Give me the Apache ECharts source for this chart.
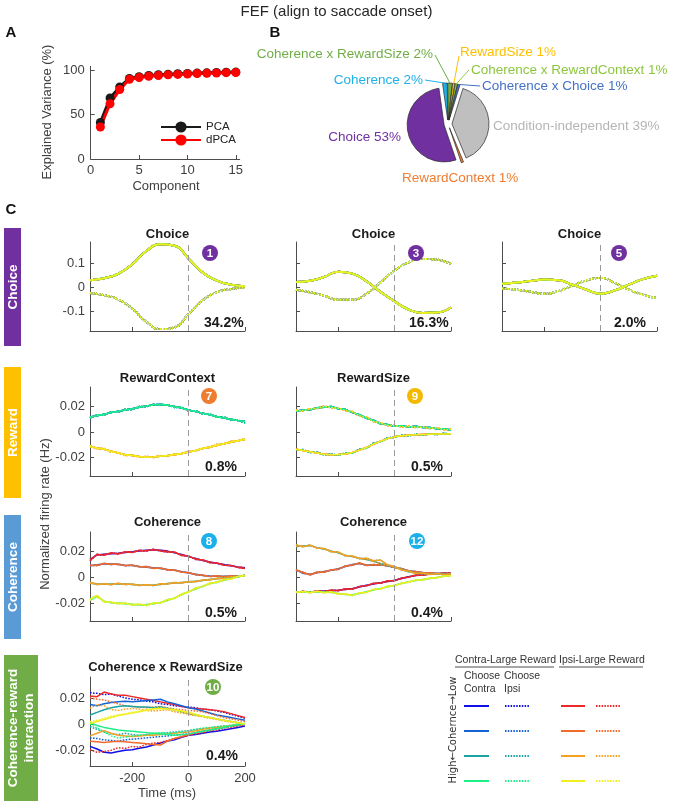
<!DOCTYPE html>
<html><head><meta charset="utf-8">
<script src="https://cdn.jsdelivr.net/npm/echarts@6/dist/echarts.min.js"></script>
<style>html,body{margin:0;padding:0;background:#fff}#c{width:673px;height:805px}</style>
</head><body><div id="c"></div>
<script>
// ================= DATA =================
// Panel A: explained variance
const components = [1,2,3,4,5,6,7,8,9,10,11,12,13,14,15];
const pcaVar  = [41,68.5,81,90.5,92.5,93.8,94.6,95.2,95.7,96.1,96.5,96.8,97.1,97.4,97.6];
const dpcaVar = [36,62,78,89.5,91.5,93,93.8,94.5,95,95.5,96,96.3,96.6,97,97.2];

// Panel B: variance split (pie)
const pieNames  = ['Coherence','Coherence x RewardSize','RewardSize','Coherence x RewardContext','Coherence x Choice','Condition-independent','RewardContext','Choice'];
const pieValues = [2,2,1,1,1,39,1,53];

// Panel C: time axes
const timeCoarse = [-350,-300,-250,-200,-150,-100,-50,0,50,100,150,200];
const timeFine = [-350,-325,-300,-275,-250,-225,-200,-175,-150,-125,-100,-75,-50,-25,0,25,50,75,100,125,150,175,200];
const xTicks = [-200,0,200];

// Choice components (coarse time)
const ch1Solid  = [0.028,0.037,0.055,0.095,0.150,0.178,0.172,0.118,0.060,0.027,0.010,0.003];
const ch1Dotted = [-0.025,-0.034,-0.052,-0.090,-0.145,-0.175,-0.168,-0.112,-0.055,-0.022,-0.008,-0.002];
const ch3Solid  = [0.021,0.026,0.042,0.064,0.056,0.024,-0.020,-0.060,-0.094,-0.108,-0.106,-0.085];
const ch3Dotted = [-0.011,-0.022,-0.036,-0.053,-0.053,-0.028,0.019,0.069,0.103,0.117,0.114,0.096];
const ch5Solid  = [0.014,0.019,0.025,0.031,0.028,0.010,-0.011,-0.028,-0.014,0.010,0.033,0.047];
const ch5Dotted = [-0.006,-0.011,-0.019,-0.028,-0.017,0.006,0.028,0.038,0.017,-0.011,-0.032,-0.046];

// RewardContext (component 7)
const rcUp1 = [0.0118,0.0128,0.0140,0.0152,0.0162,0.0172,0.0182,0.0195,0.0205,0.0212,0.0218,0.0210,0.0200,0.0188,0.0172,0.0160,0.0148,0.0135,0.0122,0.0110,0.0100,0.0090,0.0082];
const rcUp2 = [0.0110,0.0135,0.0132,0.0158,0.0155,0.0178,0.0175,0.0200,0.0198,0.0218,0.0210,0.0215,0.0192,0.0195,0.0165,0.0168,0.0140,0.0142,0.0115,0.0118,0.0095,0.0095,0.0068];
const rcLo1 = [-0.0115,-0.0125,-0.0135,-0.0150,-0.0165,-0.0178,-0.0185,-0.0192,-0.0198,-0.0195,-0.0190,-0.0185,-0.0178,-0.0168,-0.0156,-0.0145,-0.0130,-0.0118,-0.0105,-0.0092,-0.0080,-0.0068,-0.0058];
const rcLo2 = [-0.0105,-0.0132,-0.0128,-0.0158,-0.0160,-0.0185,-0.0180,-0.0198,-0.0192,-0.0200,-0.0185,-0.0190,-0.0172,-0.0172,-0.0150,-0.0150,-0.0125,-0.0122,-0.0098,-0.0095,-0.0072,-0.0070,-0.0050];

// RewardSize (component 9)
const rsUp1 = [0.0162,0.0172,0.0175,0.0190,0.0195,0.0200,0.0182,0.0178,0.0152,0.0135,0.0108,0.0092,0.0065,0.0058,0.0045,0.0050,0.0040,0.0045,0.0035,0.0035,0.0025,0.0025,0.0015];
const rsUp2 = [0.0170,0.0165,0.0182,0.0185,0.0202,0.0190,0.0188,0.0168,0.0160,0.0125,0.0118,0.0082,0.0072,0.0050,0.0052,0.0040,0.0045,0.0035,0.0040,0.0028,0.0032,0.0018,0.0022];
const rsLo1 = [-0.0135,-0.0145,-0.0155,-0.0165,-0.0175,-0.0178,-0.0176,-0.0172,-0.0160,-0.0142,-0.0122,-0.0095,-0.0072,-0.0052,-0.0038,-0.0030,-0.0025,-0.0022,-0.0020,-0.0018,-0.0016,-0.0015,-0.0014];
const rsLo2 = [-0.0140,-0.0138,-0.0160,-0.0158,-0.0180,-0.0172,-0.0182,-0.0165,-0.0165,-0.0135,-0.0128,-0.0088,-0.0078,-0.0045,-0.0042,-0.0025,-0.0030,-0.0018,-0.0024,-0.0014,-0.0020,-0.0010,-0.0016];

// Coherence (component 8), coherence levels 1..4
const coh8L1a = [0.0140,0.0175,0.0180,0.0185,0.0188,0.0195,0.0200,0.0205,0.0212,0.0215,0.0212,0.0205,0.0192,0.0178,0.0162,0.0148,0.0132,0.0120,0.0110,0.0100,0.0090,0.0082,0.0075];
const coh8L1b = [0.0130,0.0180,0.0172,0.0192,0.0182,0.0200,0.0195,0.0212,0.0205,0.0220,0.0205,0.0198,0.0198,0.0170,0.0168,0.0140,0.0138,0.0115,0.0112,0.0095,0.0092,0.0078,0.0070];
const coh8L2a = [0.0090,0.0098,0.0104,0.0105,0.0100,0.0095,0.0092,0.0085,0.0080,0.0075,0.0070,0.0062,0.0055,0.0045,0.0035,0.0025,0.0015,0.0010,0.0008,0.0008,0.0008,0.0010,0.0010];
const coh8L2b = [0.0095,0.0092,0.0110,0.0100,0.0105,0.0090,0.0096,0.0082,0.0085,0.0070,0.0074,0.0058,0.0058,0.0040,0.0038,0.0020,0.0018,0.0006,0.0012,0.0004,0.0012,0.0006,0.0014];
const coh8L3a = [-0.0045,-0.0050,-0.0054,-0.0052,-0.0050,-0.0052,-0.0056,-0.0060,-0.0062,-0.0060,-0.0055,-0.0048,-0.0044,-0.0040,-0.0036,-0.0030,-0.0024,-0.0016,-0.0010,-0.0004,0.0002,0.0008,0.0015];
const coh8L3b = [-0.0040,-0.0056,-0.0050,-0.0058,-0.0046,-0.0056,-0.0052,-0.0064,-0.0058,-0.0064,-0.0050,-0.0052,-0.0040,-0.0044,-0.0032,-0.0034,-0.0020,-0.0020,-0.0006,-0.0008,0.0006,0.0004,0.0018];
const coh8L4a = [-0.0178,-0.0150,-0.0185,-0.0198,-0.0200,-0.0205,-0.0210,-0.0215,-0.0212,-0.0205,-0.0195,-0.0180,-0.0160,-0.0135,-0.0110,-0.0090,-0.0068,-0.0050,-0.0036,-0.0022,-0.0010,0.0004,0.0015];
const coh8L4b = [-0.0170,-0.0140,-0.0192,-0.0192,-0.0206,-0.0200,-0.0216,-0.0208,-0.0220,-0.0200,-0.0200,-0.0172,-0.0165,-0.0128,-0.0115,-0.0082,-0.0072,-0.0044,-0.0040,-0.0016,-0.0014,0.0008,0.0012];

// Coherence (component 12)
const coh12L1a = [-0.0112,-0.0115,-0.0112,-0.0110,-0.0106,-0.0104,-0.0100,-0.0094,-0.0088,-0.0075,-0.0062,-0.0052,-0.0042,-0.0032,-0.0023,-0.0008,0.0005,0.0014,0.0020,0.0025,0.0028,0.0031,0.0033];
const coh12L1b = [-0.0118,-0.0108,-0.0118,-0.0104,-0.0112,-0.0098,-0.0104,-0.0088,-0.0092,-0.0070,-0.0066,-0.0046,-0.0046,-0.0026,-0.0027,-0.0004,0.0002,0.0018,0.0017,0.0028,0.0026,0.0034,0.0031];
const coh12L2a = [0.0060,0.0032,0.0024,0.0036,0.0046,0.0055,0.0068,0.0084,0.0100,0.0108,0.0096,0.0094,0.0100,0.0088,0.0080,0.0066,0.0052,0.0044,0.0038,0.0034,0.0032,0.0029,0.0028];
const coh12L2b = [0.0056,0.0040,0.0018,0.0042,0.0040,0.0060,0.0062,0.0090,0.0094,0.0114,0.0092,0.0100,0.0096,0.0092,0.0076,0.0070,0.0048,0.0046,0.0034,0.0036,0.0028,0.0031,0.0026];
const coh12L3a = [0.0240,0.0245,0.0248,0.0232,0.0222,0.0205,0.0192,0.0172,0.0162,0.0150,0.0140,0.0125,0.0108,0.0094,0.0080,0.0062,0.0044,0.0034,0.0028,0.0026,0.0024,0.0024,0.0022];
const coh12L3b = [0.0255,0.0238,0.0252,0.0228,0.0225,0.0200,0.0198,0.0168,0.0168,0.0146,0.0150,0.0130,0.0135,0.0098,0.0085,0.0058,0.0050,0.0030,0.0034,0.0022,0.0030,0.0020,0.0026];
const coh12L4a = [-0.0112,-0.0115,-0.0114,-0.0112,-0.0114,-0.0118,-0.0125,-0.0134,-0.0136,-0.0126,-0.0112,-0.0098,-0.0086,-0.0074,-0.0062,-0.0048,-0.0034,-0.0024,-0.0016,-0.0008,0.0000,0.0008,0.0015];
const coh12L4b = [-0.0118,-0.0110,-0.0120,-0.0108,-0.0120,-0.0112,-0.0132,-0.0128,-0.0142,-0.0120,-0.0118,-0.0092,-0.0090,-0.0068,-0.0066,-0.0044,-0.0038,-0.0020,-0.0020,-0.0004,-0.0004,0.0010,0.0012];

// Coherence x RewardSize (component 10): C = contra-large, I = ipsi-large, s = choose contra, d = choose ipsi
const cxC1s = [-0.0170,-0.0190,-0.0215,-0.0220,-0.0210,-0.0200,-0.0195,-0.0185,-0.0175,-0.0160,-0.0145,-0.0130,-0.0120,-0.0100,-0.0085,-0.0080,-0.0070,-0.0060,-0.0055,-0.0045,-0.0035,-0.0025,-0.0015];
const cxC1d = [0.0240,0.0235,0.0225,0.0230,0.0215,0.0200,0.0190,0.0185,0.0175,0.0170,0.0155,0.0150,0.0140,0.0135,0.0130,0.0125,0.0115,0.0110,0.0100,0.0090,0.0075,0.0060,0.0045];
const cxI1s = [0.0215,0.0210,0.0245,0.0230,0.0220,0.0220,0.0210,0.0200,0.0190,0.0180,0.0170,0.0160,0.0150,0.0135,0.0125,0.0120,0.0115,0.0110,0.0105,0.0095,0.0080,0.0065,0.0050];
const cxI1d = [-0.0195,-0.0215,-0.0210,-0.0200,-0.0180,-0.0185,-0.0170,-0.0175,-0.0155,-0.0145,-0.0140,-0.0125,-0.0110,-0.0100,-0.0085,-0.0075,-0.0065,-0.0050,-0.0045,-0.0030,-0.0025,-0.0015,-0.0005];
const cxC2s = [0.0150,0.0140,0.0155,0.0165,0.0170,0.0175,0.0170,0.0175,0.0180,0.0185,0.0190,0.0170,0.0155,0.0140,0.0125,0.0115,0.0100,0.0085,0.0070,0.0060,0.0050,0.0040,0.0030];
const cxC2d = [-0.0105,-0.0110,-0.0120,-0.0125,-0.0130,-0.0120,-0.0115,-0.0110,-0.0105,-0.0100,-0.0095,-0.0090,-0.0085,-0.0080,-0.0075,-0.0065,-0.0055,-0.0045,-0.0035,-0.0025,-0.0015,-0.0010,0.0000];
const cxI2s = [-0.0130,-0.0135,-0.0140,-0.0135,-0.0130,-0.0135,-0.0140,-0.0145,-0.0150,-0.0155,-0.0160,-0.0130,-0.0110,-0.0095,-0.0080,-0.0065,-0.0055,-0.0045,-0.0035,-0.0025,-0.0015,-0.0010,0.0000];
const cxI2d = [0.0200,0.0190,0.0185,0.0170,0.0155,0.0140,0.0135,0.0130,0.0125,0.0130,0.0135,0.0125,0.0115,0.0110,0.0105,0.0100,0.0095,0.0080,0.0065,0.0050,0.0040,0.0030,0.0020];
const cxC3s = [0.0070,0.0090,0.0110,0.0125,0.0135,0.0140,0.0135,0.0130,0.0130,0.0125,0.0130,0.0120,0.0110,0.0095,0.0080,0.0070,0.0060,0.0050,0.0040,0.0030,0.0020,0.0010,0.0000];
const cxC3d = [-0.0020,-0.0040,-0.0060,-0.0075,-0.0080,-0.0070,-0.0080,-0.0085,-0.0080,-0.0075,-0.0070,-0.0065,-0.0060,-0.0055,-0.0050,-0.0040,-0.0035,-0.0030,-0.0020,-0.0015,-0.0010,-0.0005,0.0000];
const cxI3s = [-0.0090,-0.0070,-0.0050,-0.0070,-0.0085,-0.0090,-0.0095,-0.0090,-0.0085,-0.0085,-0.0080,-0.0075,-0.0070,-0.0065,-0.0060,-0.0050,-0.0040,-0.0030,-0.0025,-0.0020,-0.0010,-0.0005,0.0005];
const cxI3d = [0.0120,0.0150,0.0140,0.0110,0.0105,0.0115,0.0120,0.0115,0.0105,0.0100,0.0105,0.0110,0.0095,0.0085,0.0075,0.0065,0.0055,0.0045,0.0035,0.0025,0.0015,0.0010,0.0000];
const cxC4s = [0.0010,-0.0010,-0.0025,-0.0035,-0.0045,-0.0050,-0.0055,-0.0060,-0.0065,-0.0070,-0.0075,-0.0080,-0.0085,-0.0080,-0.0075,-0.0065,-0.0055,-0.0045,-0.0035,-0.0025,-0.0015,-0.0005,0.0005];
const cxC4d = [0.0000,-0.0030,-0.0060,-0.0090,-0.0105,-0.0100,-0.0090,-0.0085,-0.0080,-0.0070,-0.0065,-0.0070,-0.0065,-0.0060,-0.0050,-0.0040,-0.0030,-0.0025,-0.0020,-0.0015,-0.0010,0.0000,0.0005];
const cxI4s = [0.0005,0.0020,0.0035,0.0050,0.0065,0.0075,0.0085,0.0095,0.0105,0.0115,0.0120,0.0115,0.0110,0.0100,0.0090,0.0075,0.0060,0.0050,0.0040,0.0030,0.0020,0.0010,0.0000];
const cxI4d = [0.0020,0.0030,0.0045,0.0060,0.0070,0.0080,0.0090,0.0100,0.0110,0.0120,0.0125,0.0115,0.0105,0.0095,0.0085,0.0070,0.0060,0.0050,0.0040,0.0030,0.0020,0.0010,0.0000];

// Panel texts
const panelTitles = ['Choice','Choice','Choice','RewardContext','RewardSize','Coherence','Coherence','Coherence x RewardSize'];
const panelNumbers = ['1','3','5','7','9','8','12','10'];
const panelPercents = ['34.2%','16.3%','2.0%','0.8%','0.5%','0.5%','0.4%','0.4%'];

// ================= STYLE / LAYOUT =================
const FONT = "'Liberation Sans', Arial, Helvetica, 'DejaVu Sans', sans-serif";
const AX = '#4d4d4d';
const contraColors = ['#1010e6','#1462d6','#1aa3a3','#1ef088'];
const ipsiColors   = ['#f02828','#f26a2c','#f7a122','#f0f01e'];
const pieColors = ['#1fb1ea','#70ad47','#ffc000','#92c83e','#4472c4','#bfbfbf','#ed7d31','#7030a0'];
const pieTextColors = ['#1fb1ea','#70ad47','#ffc000','#8cc63f','#4472c4','#b5b5b5','#ed7d31','#7030a0'];
const PIE_CX = 448, PIE_CY = 124, PIE_R = 37, PIE_OFF = 4, PIE_START = 98;
const pieLabelPos = [
  {x:423,y:80,align:'right',lx:425,ly:80},
  {x:433,y:54,align:'right',lx:435,ly:55},
  {x:460,y:52,align:'left',lx:459,ly:56},
  {x:471,y:70,align:'left',lx:469,ly:70},
  {x:482,y:86,align:'left',lx:480,ly:86},
  {x:493,y:126,align:'left',lx:null},
  {x:402,y:178,align:'left',lx:null},
  {x:401,y:137,align:'right',lx:null}
];
const colLeft = [90,296,502];
const rowTop = [242,387,532,677];
const PW = 155, PH = 89;
const rowY = [
  {min:-0.183,max:0.1875,ticks:[-0.1,0,0.1]},
  {min:-0.0345,max:0.0353,ticks:[-0.02,0,0.02]},
  {min:-0.034,max:0.0354,ticks:[-0.02,0,0.02]},
  {min:-0.032,max:0.036,ticks:[-0.02,0,0.02]}
];
const badgeColors = ['#7030a0','#7030a0','#7030a0','#ed7d31','#f5b800','#1cb0ea','#1cb0ea','#70ad47'];
const badgePos = [[210,253],[416,253],[619,253],[209,396],[415,396],[209,541],[417,541],[213,687]];
const titleY = [234,234,234,378,378,522,522,667];
const pctPos = [[204,323],[409,323],[614,323],[205,467],[411,467],[205,613],[411,613],[206,756]];

const panels = [
  {row:0,col:0,time:timeCoarse,smooth:true,lw:2,cs:ch1Solid,cd:ch1Dotted,is:ch1Solid,id:ch1Dotted},
  {row:0,col:1,time:timeCoarse,smooth:true,lw:2,cs:ch3Solid,cd:ch3Dotted,is:ch3Solid,id:ch3Dotted},
  {row:0,col:2,time:timeCoarse,smooth:true,lw:2,cs:ch5Solid,cd:ch5Dotted,is:ch5Solid,id:ch5Dotted},
  {row:1,col:0,time:timeFine,smooth:false,lw:1.5,cs:rcUp1,cd:rcUp2,is:rcLo1,id:rcLo2},
  {row:1,col:1,time:timeFine,smooth:false,lw:1.5,cs:rsUp1,cd:rsLo2,is:rsLo1,id:rsUp2},
  {row:2,col:0,time:timeFine,smooth:false,lw:1.5,cs:[coh8L1a,coh8L2a,coh8L3a,coh8L4a],cd:[coh8L1b,coh8L2b,coh8L3b,coh8L4b],is:[coh8L1b,coh8L2b,coh8L3b,coh8L4b],id:[coh8L1a,coh8L2a,coh8L3a,coh8L4a]},
  {row:2,col:1,time:timeFine,smooth:false,lw:1.5,cs:[coh12L1a,coh12L2a,coh12L3a,coh12L4a],cd:[coh12L1b,coh12L2b,coh12L3b,coh12L4b],is:[coh12L1b,coh12L2b,coh12L3b,coh12L4b],id:[coh12L1a,coh12L2a,coh12L3a,coh12L4a]},
  {row:3,col:0,time:timeFine,smooth:false,lw:1.5,cs:[cxC1s,cxC2s,cxC3s,cxC4s],cd:[cxC1d,cxC2d,cxC3d,cxC4d],is:[cxI1s,cxI2s,cxI3s,cxI4s],id:[cxI1d,cxI2d,cxI3d,cxI4d]}
];
function pick(src, lvl){ return Array.isArray(src[0]) ? src[lvl] : src; }

// ================= BUILD OPTION =================
const grid = [{left:90.7, top:66.4, width:149, height:92.6, outerBoundsMode:'none'}];
const xAxis = [{
  type:'value', gridIndex:0, min:0, max:15.4,
  axisLine:{show:true,onZero:false,lineStyle:{color:AX}},
  axisTick:{show:true,inside:true,length:4,customValues:[0,5,10,15],lineStyle:{color:AX}},
  axisLabel:{customValues:[0,5,10,15],margin:5,fontSize:13,color:'#404040',fontFamily:FONT},
  splitLine:{show:false}
}];
const yAxis = [{
  type:'value', gridIndex:0, min:0, max:104,
  axisLine:{show:true,onZero:false,lineStyle:{color:AX}},
  axisTick:{show:true,inside:true,length:4,customValues:[0,50,100],lineStyle:{color:AX}},
  axisLabel:{customValues:[0,50,100],margin:6,fontSize:13,color:'#404040',fontFamily:FONT},
  splitLine:{show:false}
}];
const series = [
  {type:'line',name:'PCA',xAxisIndex:0,yAxisIndex:0,data:components.map((c,i)=>[c,pcaVar[i]]),
   symbol:'circle',symbolSize:9,lineStyle:{color:'#1a1a1a',width:3},itemStyle:{color:'#1a1a1a'},silent:true},
  {type:'line',name:'dPCA',xAxisIndex:0,yAxisIndex:0,data:components.map((c,i)=>[c,dpcaVar[i]]),
   symbol:'circle',symbolSize:9,lineStyle:{color:'#ff0000',width:3},itemStyle:{color:'#ff0000'},silent:true}
];

panels.forEach((p,k)=>{
  const gi = k+1;
  const ry = rowY[p.row];
  grid.push({left:colLeft[p.col], top:rowTop[p.row], width:PW, height:PH, outerBoundsMode:'none'});
  xAxis.push({
    type:'value', gridIndex:gi, min:-350, max:200,
    axisLine:{show:true,onZero:false,lineStyle:{color:AX}},
    axisTick:{show:true,inside:true,length:4,customValues:xTicks,lineStyle:{color:AX}},
    axisLabel:{show:p.row===3,customValues:xTicks,margin:6,fontSize:13,color:'#404040',fontFamily:FONT},
    splitLine:{show:false}
  });
  yAxis.push({
    type:'value', gridIndex:gi, min:ry.min, max:ry.max,
    axisLine:{show:true,onZero:false,lineStyle:{color:AX}},
    axisTick:{show:true,inside:true,length:4,customValues:ry.ticks,lineStyle:{color:AX}},
    axisLabel:{show:p.col===0,customValues:ry.ticks,margin:5,fontSize:13,color:'#404040',fontFamily:FONT,
      formatter:v=>(Math.abs(v)<1e-9?'0':String(v))},
    splitLine:{show:false}
  });
  let first = true;
  for(let lvl=0; lvl<4; lvl++){
    [['contra',contraColors],['ipsi',ipsiColors]].forEach(([grp,cols])=>{
      [false,true].forEach(dotted=>{
        const key = (grp==='contra'?'c':'i')+(dotted?'d':'s');
        const arr = pick(p[key], lvl);
        const s = {
          type:'line', name:'p'+k+'_'+grp+lvl+(dotted?'d':'s'),
          xAxisIndex:gi, yAxisIndex:gi, silent:true,
          data:arr.map((v,i)=>[p.time[i], v]),
          symbol:'none', showSymbol:false, smooth:p.smooth?0.5:false,
          lineStyle:{color:cols[lvl], width:p.lw, type: dotted?[1.6,1.4]:'solid'}
        };
        if(first){
          s.markLine = {silent:true, symbol:'none', label:{show:false},
            lineStyle:{color:'#9a9a9a',type:[6,4],width:1}, data:[{xAxis:0}], animation:false};
          first = false;
        }
        series.push(s);
      });
    });
  }
});

series.push({
  type:'pie', center:[PIE_CX,PIE_CY], radius:PIE_R, startAngle:PIE_START, clockwise:true,
  selectedMode:'multiple', selectedOffset:PIE_OFF, silent:true,
  itemStyle:{borderColor:'#2a2a2a',borderWidth:0.7},
  data: pieNames.map((n,i)=>({name:n, value:pieValues[i], selected:true, itemStyle:{color:pieColors[i]}})),
  label:{show:false}, labelLine:{show:false},
  emphasis:{disabled:true}
});

// ---------- graphic ----------
function txt(x,y,text,opt){
  opt = opt||{};
  return {type:'text', x:x, y:y, rotation:opt.rot||0, silent:true, z:100,
    style:{text:text, fill:opt.color||'#222', font:(opt.weight||'normal')+' '+(opt.size||13)+'px '+(opt.family||FONT),
      align:opt.align||'center', verticalAlign:'middle', textAlign:opt.align||'center', textVerticalAlign:'middle',
      lineHeight:opt.lh||undefined}};
}
const G = [];
G.push(txt(336.5,12,'FEF (align to saccade onset)',{size:15,color:'#262626'}));
G.push(txt(11,33,'A',{size:15,weight:'bold',color:'#111'}));
G.push(txt(275,33,'B',{size:15,weight:'bold',color:'#111'}));
G.push(txt(11,210,'C',{size:15,weight:'bold',color:'#111'}));
G.push(txt(47,112,'Explained Variance (%)',{rot:Math.PI/2,color:'#404040'}));
G.push(txt(166,186,'Component',{color:'#404040'}));
G.push(txt(45,514,'Normalized firing rate (Hz)',{rot:Math.PI/2,color:'#404040'}));
G.push(txt(167,793,'Time (ms)',{color:'#404040'}));

// pie labels and leader lines (slice anchor computed from pie data)
const pieTotal = pieValues.reduce((a,b)=>a+b,0);
let cum = 0;
pieValues.forEach((v,i)=>{
  const midFrac = (cum + v/2)/pieTotal;
  cum += v;
  const ang = (PIE_START - 360*midFrac) * Math.PI/180;
  const R = PIE_R + PIE_OFF;
  const sx = PIE_CX + R*Math.cos(ang), sy = PIE_CY - R*Math.sin(ang);
  const lp = pieLabelPos[i];
  G.push(txt(lp.x, lp.y, pieNames[i]+' '+pieValues[i]+'%', {size:13.5, color:pieTextColors[i], align:lp.align}));
  if(lp.lx!==null){
    G.push({type:'line',shape:{x1:lp.lx,y1:lp.ly,x2:sx,y2:sy},style:{stroke:pieColors[i],lineWidth:1},silent:true,z:99});
  }
});

// side bars
const bars = [
  {x:4,y:228,w:17,h:118,c:'#7030a0',t:'Choice'},
  {x:4,y:367,w:17,h:131,c:'#ffc000',t:'Reward'},
  {x:4,y:515,w:17,h:124,c:'#5b9bd5',t:'Coherence'},
  {x:4,y:655,w:34,h:146,c:'#70ad47',t:'Coherence-reward\ninteraction'}
];
bars.forEach(b=>{
  G.push({type:'rect',shape:{x:b.x,y:b.y,width:b.w,height:b.h},style:{fill:b.c},silent:true,z:90});
  G.push(txt(b.x+b.w/2+0.5,b.y+b.h/2,b.t,{rot:Math.PI/2,color:'#ffffff',weight:'bold',size:13.5,lh:16}));
});

// titles, badges, percents
panels.forEach((p,k)=>{
  G.push(txt(colLeft[p.col]+PW/2 - (k===7?2:0), titleY[k], panelTitles[k], {weight:'bold',size:13,color:'#1a1a1a'}));
  G.push({type:'circle',shape:{cx:badgePos[k][0],cy:badgePos[k][1],r:8},style:{fill:badgeColors[k]},silent:true,z:95});
  G.push(txt(badgePos[k][0],badgePos[k][1]+0.5,panelNumbers[k],{weight:'bold',size:11.5,color:'#ffffff'}));
  G.push(txt(pctPos[k][0],pctPos[k][1],panelPercents[k],{weight:'bold',size:14,color:'#1a1a1a',align:'left'}));
});

// legend of panel C
G.push(txt(455,660,'Contra-Large Reward',{size:10.5,color:'#333',align:'left'}));
G.push(txt(559,660,'Ipsi-Large Reward',{size:10.5,color:'#333',align:'left'}));
G.push({type:'line',shape:{x1:455,y1:667,x2:554,y2:667},style:{stroke:'#a6a6a6',lineWidth:2},silent:true});
G.push({type:'line',shape:{x1:559,y1:667,x2:643,y2:667},style:{stroke:'#a6a6a6',lineWidth:2},silent:true});
G.push(txt(464,676,'Choose',{size:10.5,color:'#333',align:'left'}));
G.push(txt(464,689,'Contra',{size:10.5,color:'#333',align:'left'}));
G.push(txt(504,676,'Choose',{size:10.5,color:'#333',align:'left'}));
G.push(txt(504,689,'Ipsi',{size:10.5,color:'#333',align:'left'}));
G.push(txt(453,730,'High\u2190Cohernce\u2192Low',{size:10,color:'#333',rot:Math.PI/2,family:"'DejaVu Sans', sans-serif"}));
const legRows = [706,731,756,781];
legRows.forEach((y,i)=>{
  G.push({type:'line',shape:{x1:464,y1:y,x2:489,y2:y},style:{stroke:contraColors[i],lineWidth:2},silent:true});
  G.push({type:'line',shape:{x1:505,y1:y,x2:529,y2:y},style:{stroke:contraColors[i],lineWidth:2,lineDash:[1.5,1.3]},silent:true});
  G.push({type:'line',shape:{x1:561,y1:y,x2:585,y2:y},style:{stroke:ipsiColors[i],lineWidth:2},silent:true});
  G.push({type:'line',shape:{x1:596,y1:y,x2:620,y2:y},style:{stroke:ipsiColors[i],lineWidth:2,lineDash:[1.5,1.3]},silent:true});
});

const option = {
  animation:false,
  backgroundColor:'#ffffff',
  textStyle:{fontFamily:FONT},
  grid:grid, xAxis:xAxis, yAxis:yAxis, series:series,
  legend:{data:['PCA','dPCA'], left:160, top:121, orient:'vertical', itemWidth:40, itemHeight:14, itemGap:1, padding:0,
    selectedMode:false, textStyle:{fontSize:11.5, color:'#222', fontFamily:FONT}},
  graphic:G
};
const chart = echarts.init(document.getElementById('c'), null, {renderer:'canvas'});
chart.setOption(option);
</script>
</body></html>
